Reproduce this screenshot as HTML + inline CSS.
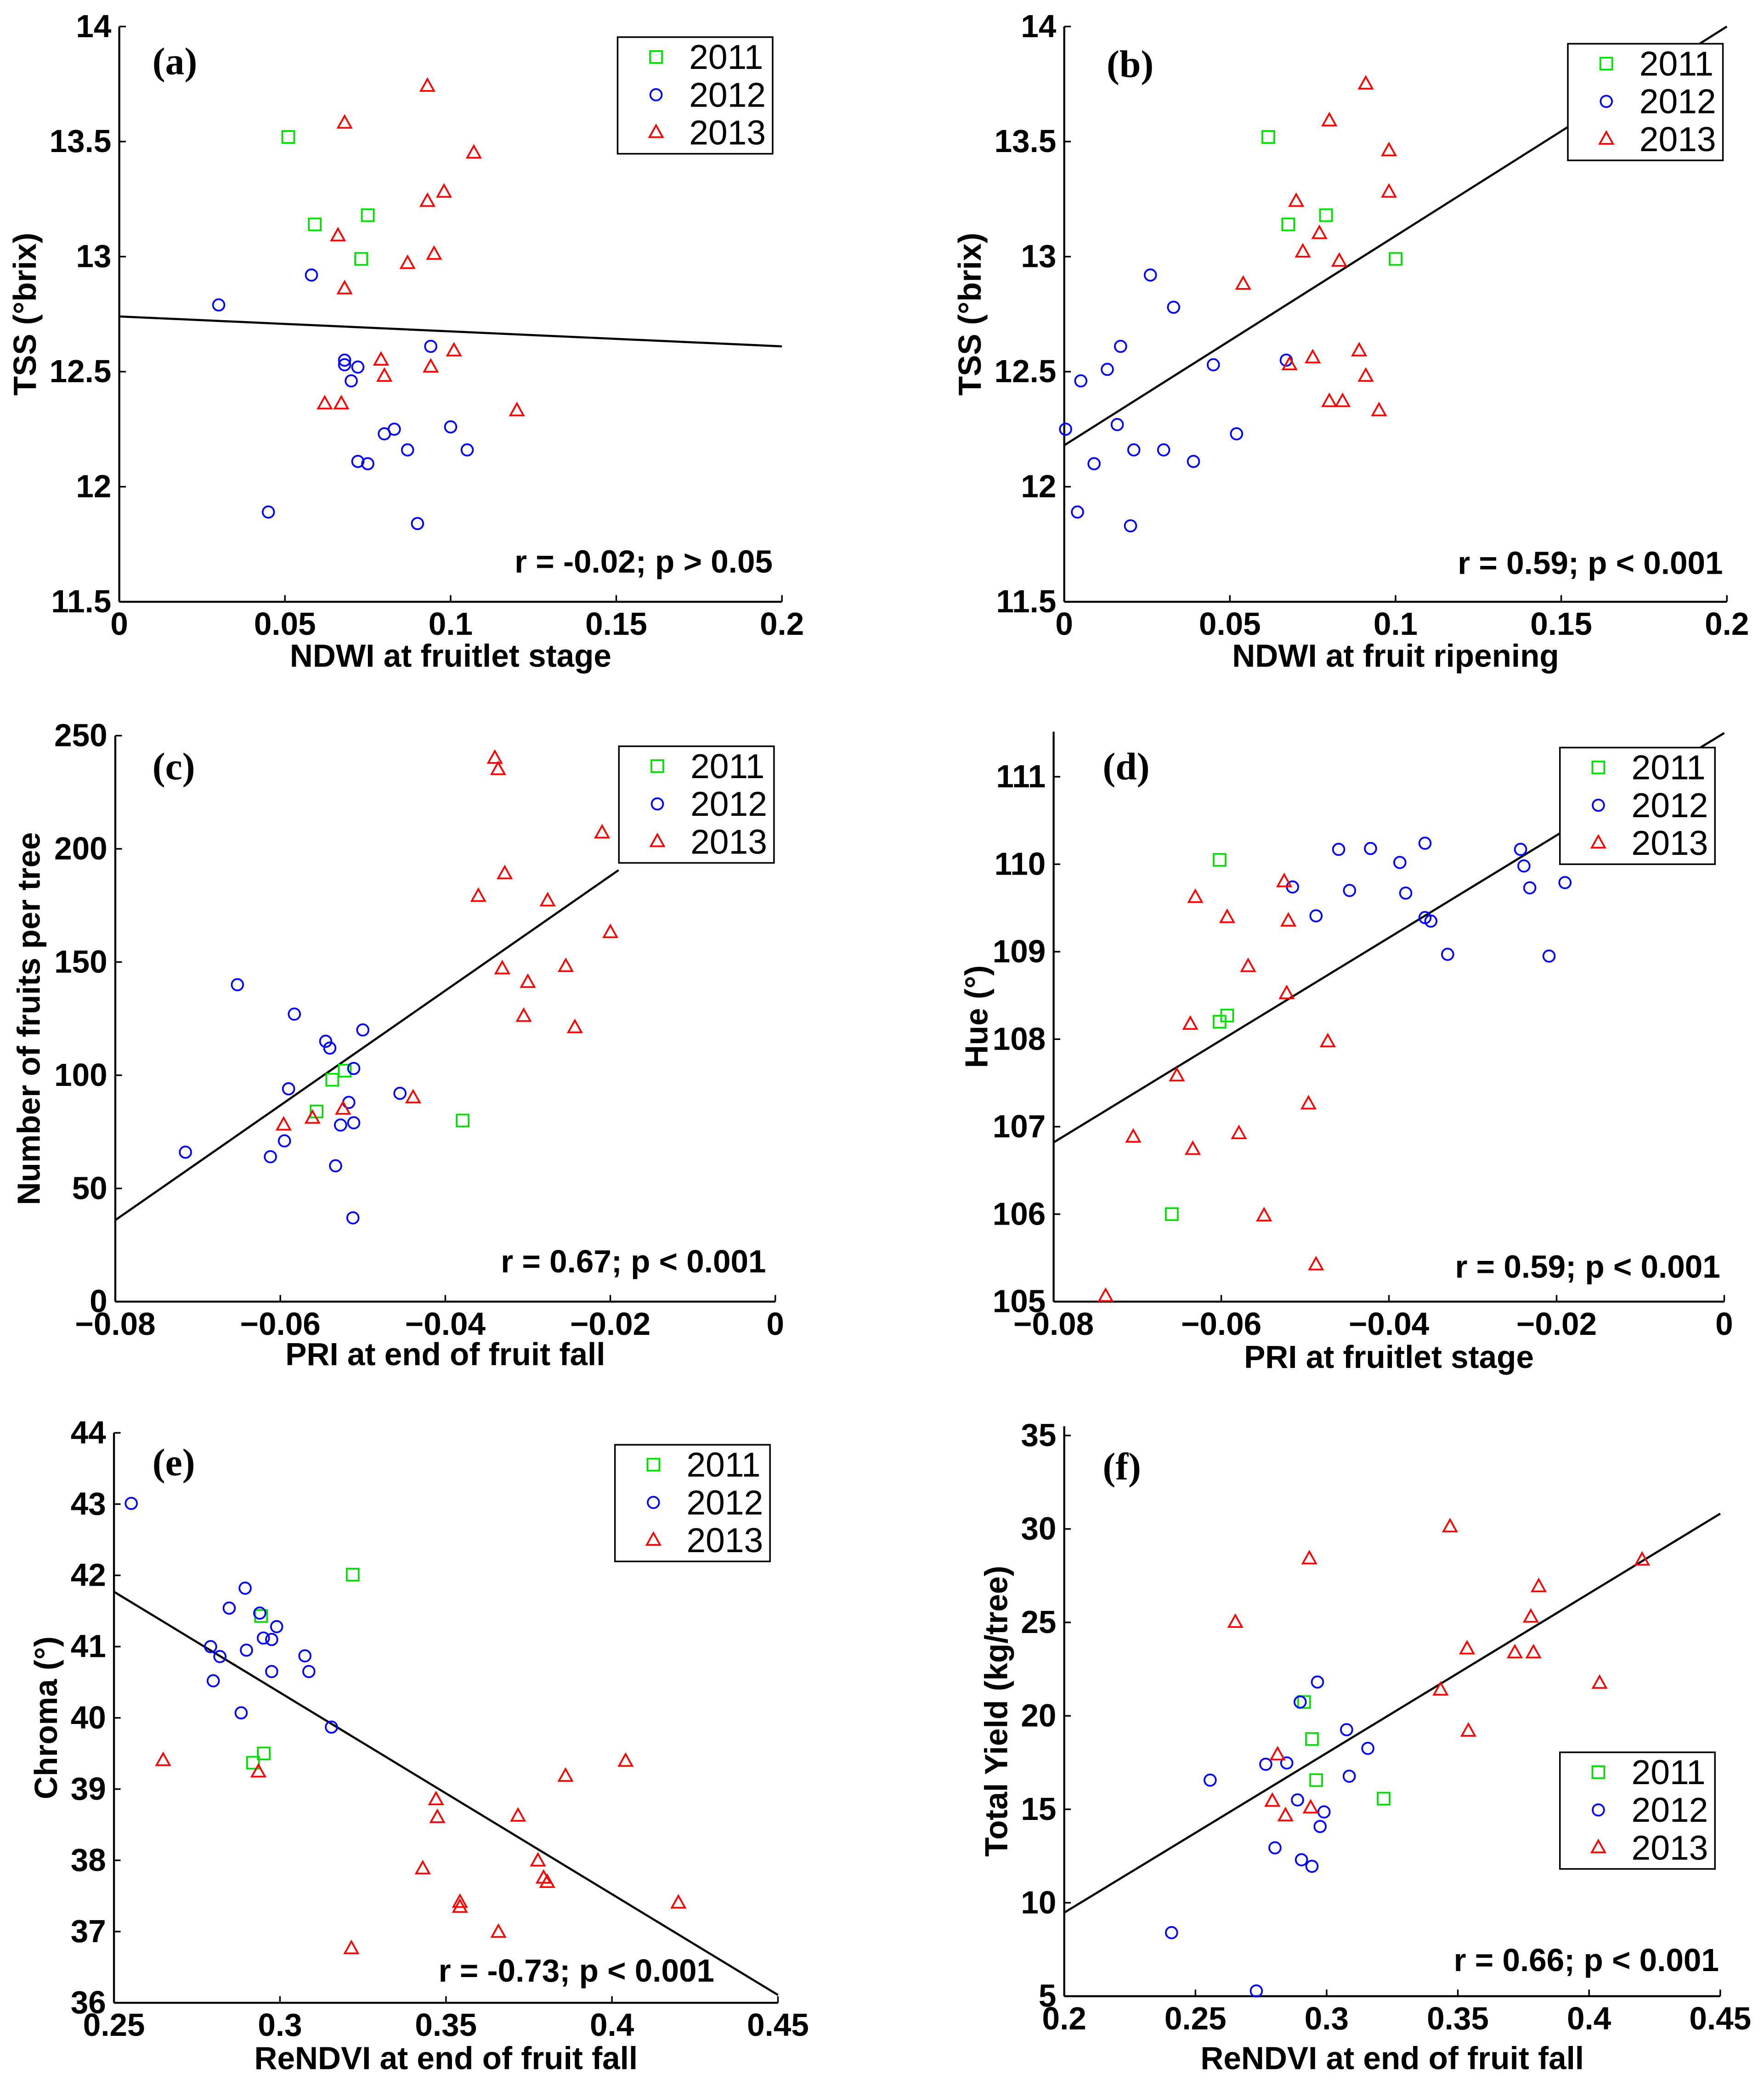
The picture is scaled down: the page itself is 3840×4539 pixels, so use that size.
<!DOCTYPE html>
<html><head><meta charset="utf-8"><style>
html,body{margin:0;padding:0;background:#fff}
svg{display:block}
text{font-family:"Liberation Sans",Arial,sans-serif;font-weight:bold}
.pl{font-family:"Liberation Serif","Times New Roman",serif;font-weight:bold}
</style></head><body>
<svg id="fig" width="3840" height="4539" viewBox="0 0 1331 1573" preserveAspectRatio="none" xmlns="http://www.w3.org/2000/svg"></svg>
<script>
// ---------- data ----------
const aX2011=[0.051,0.059,0.075,0.073];
const aY2011=[13.52,13.14,13.18,12.99];
const aX2012=[0.030,0.058,0.068,0.068,0.070,0.072,0.072,0.075,0.080,0.083,0.087,0.094,0.100,0.105,0.045,0.090];
const aY2012=[12.79,12.92,12.55,12.53,12.46,12.52,12.11,12.10,12.23,12.25,12.16,12.61,12.26,12.16,11.89,11.84];
const aX2013=[0.068,0.093,0.107,0.098,0.093,0.066,0.095,0.087,0.068,0.079,0.080,0.094,0.101,0.062,0.067,0.120];
const aY2013=[13.58,13.74,13.45,13.28,13.24,13.09,13.01,12.97,12.86,12.55,12.48,12.52,12.59,12.36,12.36,12.33];
const aFit=[0,12.74,0.2,12.61];

const bX2011=[0.0616,0.0676,0.079,0.100];
const bY2011=[13.52,13.14,13.18,12.99];
const bX2012=[0.026,0.033,0.017,0.013,0.005,0.0004,0.016,0.021,0.030,0.009,0.039,0.052,0.045,0.067,0.004,0.020];
const bY2012=[12.92,12.78,12.61,12.51,12.46,12.25,12.27,12.16,12.16,12.10,12.11,12.23,12.53,12.55,11.89,11.83];
const bX2013=[0.091,0.080,0.098,0.098,0.070,0.077,0.072,0.083,0.054,0.075,0.068,0.089,0.091,0.080,0.084,0.095];
const bY2013=[13.75,13.59,13.46,13.28,13.24,13.10,13.02,12.98,12.88,12.56,12.53,12.59,12.48,12.37,12.37,12.33];
const bFit=[0,12.18,0.2,14.0];

const cX2011=[-0.0556,-0.0537,-0.0522,-0.0379];
const cY2011=[84,98,102,80];
const cX2012=[-0.0715,-0.0652,-0.0583,-0.059,-0.0595,-0.0612,-0.0545,-0.054,-0.050,-0.0511,-0.0517,-0.0527,-0.0511,-0.0533,-0.0512,-0.0455];
const cY2012=[66,140,127,94,71,64,115,112,120,103,88,78,79,60,37,92];
const cX2013=[-0.034,-0.0336,-0.0210,-0.0328,-0.036,-0.0276,-0.020,-0.0254,-0.0331,-0.0300,-0.0305,-0.0243,-0.0439,-0.0524,-0.0561,-0.0596];
const cY2013=[240,235,207,189,179,177,163,148,147,141,126,121,90,85,81,78];
const cFit=[-0.08,36,-0.019,190.6];

const dX2011=[-0.0602,-0.0593,-0.0602,-0.0659];
const dY2011=[110.05,108.27,108.2,106.0];
const dX2012=[-0.046,-0.0422,-0.0357,-0.0387,-0.0515,-0.0447,-0.038,-0.0487,-0.0357,-0.035,-0.0330,-0.0243,-0.0239,-0.0232,-0.019,-0.0209];
const dY2012=[110.17,110.18,110.24,110.02,109.74,109.70,109.67,109.41,109.39,109.35,108.97,110.17,109.98,109.73,109.79,108.95];
const dX2013=[-0.0631,-0.0593,-0.0525,-0.052,-0.0568,-0.0522,-0.0637,-0.0473,-0.0653,-0.0496,-0.0705,-0.0579,-0.0634,-0.0549,-0.0487,-0.0738];
const dY2013=[109.62,109.39,109.80,109.35,108.83,108.52,108.17,107.97,107.58,107.26,106.88,106.92,106.74,105.98,105.42,105.06];
const dFit=[-0.08,106.82,0,111.5];

const eX2011=[0.3219,0.2943,0.2951,0.2919];
const eY2011=[42.01,41.43,39.50,39.37];
const eX2012=[0.2552,0.2895,0.2847,0.2939,0.2990,0.295,0.2975,0.2791,0.2819,0.2899,0.3075,0.3087,0.2975,0.2799,0.2883,0.3155];
const eY2012=[43.01,41.82,41.54,41.47,41.28,41.12,41.1,41.0,40.86,40.95,40.87,40.65,40.65,40.52,40.07,39.87];
const eX2013=[0.2648,0.2935,0.347,0.3474,0.3717,0.386,0.4041,0.343,0.3777,0.3794,0.3805,0.3542,0.3542,0.3658,0.42,0.3215];
const eY2013=[39.40,39.24,38.85,38.60,38.62,39.18,39.39,37.88,37.99,37.75,37.69,37.41,37.34,36.99,37.40,36.76];
const eFit=[0.25,41.77,0.45,36.11];

const fX2011=[0.2914,0.2944,0.296,0.3217];
const fY2011=[20.74,18.76,16.56,15.57];
const fX2012=[0.2965,0.2899,0.3076,0.3157,0.2848,0.2768,0.2556,0.3086,0.2889,0.2990,0.2975,0.2803,0.2904,0.2944,0.2409,0.2732];
const fY2012=[21.81,20.74,19.26,18.26,17.48,17.41,16.56,16.77,15.50,14.86,14.08,12.94,12.30,11.95,8.40,5.28];
const fX2013=[0.347,0.2934,0.4202,0.3808,0.2652,0.3778,0.3535,0.3717,0.3788,0.404,0.3434,0.3540,0.2813,0.2793,0.2939,0.2843];
const fY2013=[30.11,28.40,28.33,26.91,25.0,25.28,23.58,23.37,23.37,21.74,21.38,19.18,17.91,15.43,15.07,14.65];
const fFit=[0.2,9.47,0.45,30.82];

const xTicksA=[0,0.05,0.1,0.15,0.2];
const xLabelsA=["0","0.05","0.1","0.15","0.2"];
const yTicksAB=[11.5,12,12.5,13,13.5,14];
const yLabelsAB=["11.5","12","12.5","13","13.5","14"];
const xTicksCD=[-0.08,-0.06,-0.04,-0.02,0];
const xLabelsCD=["\u22120.08","\u22120.06","\u22120.04","\u22120.02","0"];
const yTicksC=[0,50,100,150,200,250];
const yTicksD=[105,106,107,108,109,110,111];
const xTicksE=[0.25,0.3,0.35,0.4,0.45];
const xLabelsE=["0.25","0.3","0.35","0.4","0.45"];
const yTicksE=[36,37,38,39,40,41,42,43,44];
const xTicksF=[0.2,0.25,0.3,0.35,0.4,0.45];
const xLabelsF=["0.2","0.25","0.3","0.35","0.4","0.45"];
const yTicksF=[5,10,15,20,25,30,35];
const years=["2011","2012","2013"];

// ---------- drawing ----------
const NS="http://www.w3.org/2000/svg";
const svg=document.getElementById('fig');
function mk(tag,at,parent){const e=document.createElementNS(NS,tag);for(const k in at)e.setAttribute(k,at[k]);(parent||svg).appendChild(e);return e;}
const COL=["#00e000","#0000ff","#ff0000"];

function marker(g,kind,x,y){
  let e;
  if(kind===0){e=mk('rect',{x:x-4.5,y:y-4.5,width:9,height:9,fill:'none',stroke:COL[0],'stroke-width':1.3},g);}
  else if(kind===1){e=mk('circle',{cx:x,cy:y,r:4.3,fill:'none',stroke:COL[1],'stroke-width':1.3},g);}
  else {e=mk('polygon',{points:`${x},${y-5.5} ${x-5},${y+3.5} ${x+5},${y+3.5}`,fill:'none',stroke:COL[2],'stroke-width':1.3},g);}
  return e;
}

function panel(p){
  const g=mk('g',{});
  
  
  const sx=v=>p.px0+(v-p.xmin)/(p.xmax-p.xmin)*(p.px1-p.px0);
  const sy=v=>p.py0-(v-p.ymin)/(p.ymax-p.ymin)*(p.py0-p.py1);
  const ax=mk('line',{x1:p.px0,y1:p.py0,x2:p.px1,y2:p.py0,stroke:'#000','stroke-width':1.5},g);
  
  
  const ay=mk('line',{x1:p.px0,y1:p.py0,x2:p.px0,y2:p.ytop,stroke:'#000','stroke-width':1.5},g);
  
  
  p.xt.forEach((v,i)=>{
    const x=sx(v);
    mk('line',{x1:x,y1:p.py0,x2:x,y2:p.py0-5,stroke:'#000','stroke-width':1.2},g);
    const t=mk('text',{x:x,y:p.py0+25,'text-anchor':'middle','font-size':24},g);
    t.textContent=p.xl[i];
    
    
  });
  p.yt.forEach((v,i)=>{
    const y=sy(v);
    mk('line',{x1:p.px0,y1:y,x2:p.px0+5,y2:y,stroke:'#000','stroke-width':1.2},g);
    const t=mk('text',{x:p.px0-6,y:y+8,'text-anchor':'end','font-size':24},g);
    t.textContent=p.yl[i];
    
    
  });
  const f=p.fit;
  const fl=mk('line',{x1:sx(f[0]),y1:sy(f[1]),x2:sx(f[2]),y2:sy(f[3]),stroke:'#000','stroke-width':1.6},g);
  
  
  p.series.forEach((s,k)=>{
    s[0].forEach((xv,i)=>{
      const m=marker(g,k,sx(xv),sy(s[1][i]));
      
      
    });
  });
  const L=p.leg;
  const lg=mk('g',{},g);
  
  
  mk('rect',{x:L[0],y:L[1],width:117,height:88,fill:'#fff',stroke:'#000','stroke-width':1.2},lg);
  years.forEach((yr,k)=>{
    const yy=L[1]+15+k*28.5;
    marker(lg,k,L[0]+29,yy);
    const t=mk('text',{x:L[0]+54,y:yy+9,'font-size':26},lg);
    t.style.fontWeight='normal';
    t.textContent=yr;
    
    
  });
  const pl=mk('text',{x:p.lab[0],y:p.lab[1],'font-size':29,class:'pl'},g);
  pl.textContent='('+p.id+')';
  
  
  const st=mk('text',{x:p.stat[0],y:p.stat[1],'text-anchor':'end','font-size':24},g);
  st.textContent=p.statText;
  
  
  const xt=mk('text',{x:(p.px0+p.px1)/2,y:p.xlabY,'text-anchor':'middle','font-size':24},g);
  xt.textContent=p.xTitle;
  
  
  const cy=(p.py0+p.ytop)/2;
  const yt=mk('text',{x:p.ylabX,y:cy,'text-anchor':'middle','font-size':24,transform:`rotate(-90 ${p.ylabX} ${cy})`},g);
  yt.textContent=p.yTitle;
  
  
}

panel({id:'a',px0:90,px1:590,py0:454,py1:20,ytop:20,xmin:0,xmax:0.2,ymin:11.5,ymax:14,
  xt:xTicksA,xl:xLabelsA,yt:yTicksAB,yl:yLabelsAB,fit:aFit,
  series:[[aX2011,aY2011],[aX2012,aY2012],[aX2013,aY2013]],
  leg:[466,28],lab:[115,56],stat:[583,432],statText:'r = -0.02; p > 0.05',
  xlabY:503,xTitle:'NDWI at fruitlet stage',ylabX:27,yTitle:'TSS (°brix)'});
panel({id:'b',px0:803,px1:1303,py0:454,py1:20,ytop:20,xmin:0,xmax:0.2,ymin:11.5,ymax:14,
  xt:xTicksA,xl:xLabelsA,yt:yTicksAB,yl:yLabelsAB,fit:bFit,
  series:[[bX2011,bY2011],[bX2012,bY2012],[bX2013,bY2013]],
  leg:[1183,33],lab:[835,58],stat:[1300,433],statText:'r = 0.59; p < 0.001',
  xlabY:503,xTitle:'NDWI at fruit ripening',ylabX:740,yTitle:'TSS (°brix)'});
panel({id:'c',px0:87,px1:585,py0:982,py1:555,ytop:555,xmin:-0.08,xmax:0,ymin:0,ymax:250,
  xt:xTicksCD,xl:xLabelsCD,yt:yTicksC,yl:yTicksC.map(String),fit:cFit,
  series:[[cX2011,cY2011],[cX2012,cY2012],[cX2013,cY2013]],
  leg:[467,563],lab:[115,588],stat:[578,960],statText:'r = 0.67; p < 0.001',
  xlabY:1030,xTitle:'PRI at end of fruit fall',ylabX:30,yTitle:'Number of fruits per tree'});
panel({id:'d',px0:795,px1:1301,py0:982,py1:586,ytop:552,xmin:-0.08,xmax:0,ymin:105,ymax:111,
  xt:xTicksCD,xl:xLabelsCD,yt:yTicksD,yl:yTicksD.map(String),fit:dFit,
  series:[[dX2011,dY2011],[dX2012,dY2012],[dX2013,dY2013]],
  leg:[1177,564],lab:[832,588],stat:[1298,964],statText:'r = 0.59; p < 0.001',
  xlabY:1032,xTitle:'PRI at fruitlet stage',ylabX:745,yTitle:'Hue (°)'});
panel({id:'e',px0:86,px1:587,py0:1511,py1:1081,ytop:1081,xmin:0.25,xmax:0.45,ymin:36,ymax:44,
  xt:xTicksE,xl:xLabelsE,yt:yTicksE,yl:yTicksE.map(String),fit:eFit,
  series:[[eX2011,eY2011],[eX2012,eY2012],[eX2013,eY2013]],
  leg:[464,1090],lab:[115,1113],stat:[539,1495],statText:'r = -0.73; p < 0.001',
  xlabY:1561,xTitle:'ReNDVI at end of fruit fall',ylabX:43,yTitle:'Chroma (°)'});
panel({id:'f',px0:803,px1:1298,py0:1506,py1:1083,ytop:1076,xmin:0.2,xmax:0.45,ymin:5,ymax:35,
  xt:xTicksF,xl:xLabelsF,yt:yTicksF,yl:yTicksF.map(String),fit:fFit,
  series:[[fX2011,fY2011],[fX2012,fY2012],[fX2013,fY2013]],
  leg:[1177,1322],lab:[832,1116],stat:[1297,1487],statText:'r = 0.66; p < 0.001',
  xlabY:1561,xTitle:'ReNDVI at end of fruit fall',ylabX:760,yTitle:'Total Yield (kg/tree)'});
</script>
</body></html>
